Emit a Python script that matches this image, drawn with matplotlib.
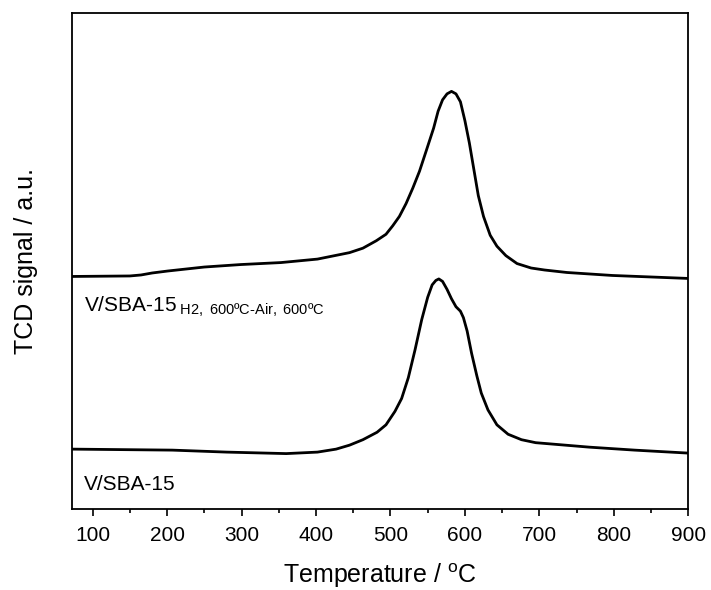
import numpy as np
import matplotlib
matplotlib.use('Agg')
from matplotlib import pyplot as plt

plt.rcParams['font.family'] = ['Liberation Sans', 'DejaVu Sans']
plt.rcParams['mathtext.fontset'] = 'custom'
plt.rcParams['mathtext.rm'] = 'Liberation Sans'
plt.rcParams['mathtext.it'] = 'Liberation Sans'

# V/SBA-15 H2,600-Air,600 (trazo de arriba)
t_sup = [73, 150, 165, 180, 201, 250, 299, 353, 402, 445, 463, 481, 494, 503, 512, 521,
         530, 539, 548, 558, 564, 570, 576, 582, 588, 594, 600, 606, 612, 618, 625,
         634, 643, 655, 670, 689, 707, 737, 798, 900]
s_sup = [46.9, 47.0, 47.2, 47.6, 48.0, 48.8, 49.3, 49.7, 50.4, 51.7, 52.6, 54.1, 55.4, 57.1, 59.0, 61.6,
         64.7, 68.1, 72.2, 76.8, 80.2, 82.5, 83.7, 84.2, 83.7, 82.1, 78.3, 73.8, 68.5, 63.2, 59.0,
         55.2, 53.0, 51.1, 49.5, 48.6, 48.2, 47.7, 47.1, 46.5]

# V/SBA-15 (trazo de abajo)
t_inf = [73, 207, 280, 360, 402, 427, 445, 463, 482, 494, 506, 515, 524, 533, 542,
         550, 556, 561, 565, 570, 576, 582, 588, 594, 598, 603, 609, 616, 622, 631,
         643, 658, 676, 695, 767, 828, 900]
s_inf = [12.1, 11.9, 11.5, 11.2, 11.5, 12.1, 12.9, 14.0, 15.5, 17.0, 19.7, 22.3, 26.5, 32.1, 38.2,
         42.7, 45.2, 46.1, 46.4, 45.9, 44.3, 42.4, 40.8, 39.9, 38.6, 35.9, 31.4, 26.9, 23.4, 20.0,
         17.0, 15.1, 14.0, 13.4, 12.5, 11.9, 11.3]

fig = plt.figure(figsize=(7.11, 5.90), dpi=100)
ax = fig.add_axes([0.101, 0.137, 0.867, 0.841])

ax.plot(t_sup, s_sup, 'k', lw=2.0, solid_joinstyle='round')
ax.plot(t_inf, s_inf, 'k', lw=2.0, solid_joinstyle='round')

ax.text(88, 40.8, 'V/SBA-15$_{\\mathregular{\\ H2,\\ 600ºC\\text{-}Air,\\ 600ºC}}$', fontsize=15, va='center')
ax.text(88, 4.9, 'V/SBA-15', fontsize=15, va='center')

ax.set_xlim(72, 900)
ax.set_ylim(0, 100)
ax.set_xticks(np.arange(100, 901, 100))
ax.set_xticks(np.arange(100, 901, 50), minor=True)
ax.set_yticks([])
ax.tick_params(axis='x', which='major', direction='out', length=5, width=1.2, labelsize=15, pad=7)
ax.tick_params(axis='x', which='minor', direction='out', length=3, width=1.2)
for sp in ax.spines.values():
    sp.set_linewidth(1.3)

ax.set_xlabel('Temperature / $\\mathregular{^oC}$', fontsize=18, labelpad=12)
ax.set_ylabel('TCD signal / a.u.', fontsize=18, labelpad=24)

plt.savefig('out.png', dpi=100)
